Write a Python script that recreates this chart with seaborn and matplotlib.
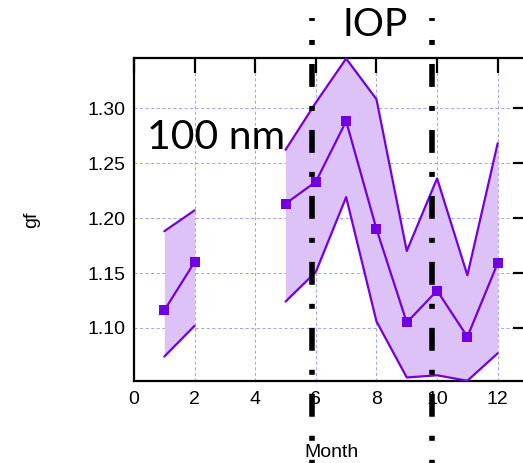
import numpy as np
import pandas as pd
import matplotlib
matplotlib.use("Agg")
import matplotlib.pyplot as plt
import matplotlib.transforms as mtransforms
from matplotlib.lines import Line2D
import seaborn as sns

# Monthly growth factor (gf) for 100 nm particles; months 3-4 have no data
month = [1, 2, 3, 4, 5, 6, 7, 8, 9, 10, 11, 12]
gf_mean = [1.116, 1.160, np.nan, np.nan, 1.213, 1.233, 1.288, 1.190, 1.105, 1.134, 1.092, 1.159]
gf_upper = [1.188, 1.207, np.nan, np.nan, 1.262, 1.305, 1.345, 1.308, 1.170, 1.236, 1.148, 1.268]
gf_lower = [1.074, 1.102, np.nan, np.nan, 1.124, 1.151, 1.219, 1.106, 1.055, 1.057, 1.052, 1.077]

# Intensive observation period boundaries (month axis)
iop_bounds = [5.86, 9.84]

x_ticks = [0, 2, 4, 6, 8, 10, 12]
y_ticks = [1.10, 1.15, 1.20, 1.25, 1.30]

LINE = "#7200e0"
FILL = "#dcc2f7"
GRID = "#a0a0ff"

sns.set_theme(style="white")
plt.rcParams["font.family"] = ["Liberation Sans", "DejaVu Sans"]
plt.rcParams["lines.scale_dashes"] = False

df = pd.DataFrame({"month": month, "mean": gf_mean, "upper": gf_upper, "lower": gf_lower})
# contiguous runs of valid months are drawn as separate line units
df["seg"] = df["mean"].isna().cumsum()
valid = df.dropna()

fig = plt.figure(figsize=(5.23, 4.63), dpi=100)
W, H = 523, 463
ax = fig.add_axes([134 / W, 1 - 381 / H, (528 - 134) / W, (381 - 58) / H])

for seg, part in valid.groupby("seg"):
    ax.fill_between(part["month"], part["lower"], part["upper"], color=FILL, lw=0, zorder=1)

for col in ["upper", "lower"]:
    sns.lineplot(data=valid, x="month", y=col, units="seg", estimator=None,
                 color=LINE, lw=1.6, ax=ax, zorder=3)
sns.lineplot(data=valid, x="month", y="mean", units="seg", estimator=None,
             color=LINE, lw=1.6, marker="s", markersize=7, markeredgewidth=0,
             markerfacecolor=LINE, ax=ax, zorder=4)

ax.set_xlim(0, 13)
ax.set_ylim(1.0518, 1.3455)
ax.set_xticks(x_ticks)
ax.set_yticks(y_ticks)
ax.set_xticklabels([str(t) for t in x_ticks])
ax.set_yticklabels([f"{t:.2f}" for t in y_ticks])

ax.grid(True, color=GRID, lw=0.7, linestyle=(0, (2.2, 1.8)), zorder=0)
ax.set_axisbelow(True)

for s in ax.spines.values():
    s.set_color("black")
    s.set_linewidth(1.6)

ax.tick_params(axis="both", which="major", direction="in", length=11, width=1.6,
               color="black", top=True, right=True, labelsize=14, labelcolor="black")
ax.tick_params(axis="x", pad=7)
ax.tick_params(axis="y", pad=6)

ax.set_xlabel("Month", fontsize=14, color="black", labelpad=26)
ax.set_ylabel("gf", fontsize=14, color="black", labelpad=34)

# IOP boundary markers: dash-dot lines spanning the full figure height
trans = mtransforms.blended_transform_factory(ax.transData, fig.transFigure)
for xb in iop_bounds:
    ln = Line2D([xb, xb], [1 - 18 / H, 0.0], transform=trans, color="black", lw=4.0,
                linestyle=(14.4, (16.5, 13.7, 3.6, 13.7)), solid_capstyle="butt",
                dash_capstyle="butt", clip_on=False, zorder=20)
    ax.add_line(ln)

fig.text(342 / W, 1 - 36 / H, "IOP", fontsize=28, family=["Lato", "DejaVu Sans"],
         ha="left", va="baseline", color="black")
ax.text(147 / W, 1 - 149 / H, "100 nm", transform=fig.transFigure, fontsize=29.5,
        family=["Lato", "DejaVu Sans"], ha="left", va="baseline", color="black", zorder=10)

fig.savefig("out.png", dpi=100)
